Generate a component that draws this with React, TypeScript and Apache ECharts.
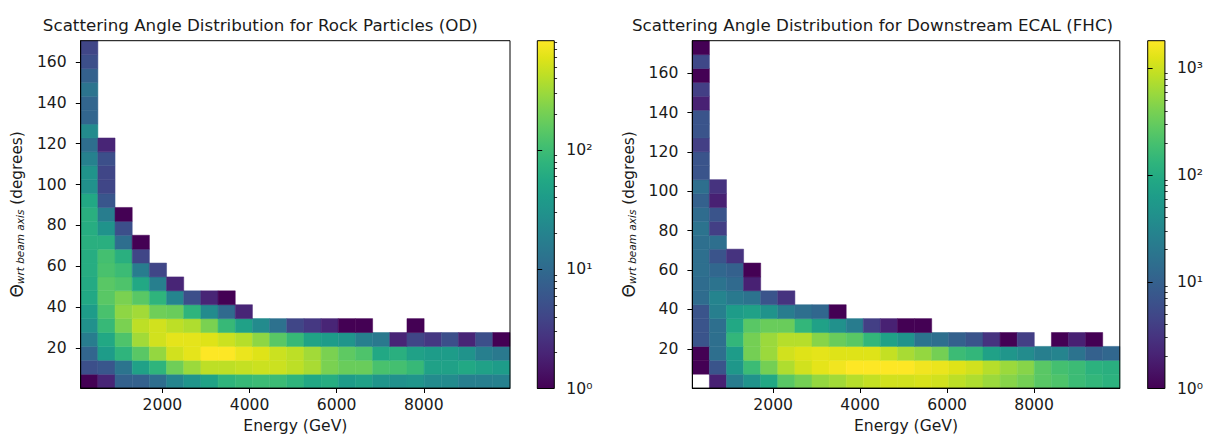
import React, { useEffect, useRef } from "react";
import * as echarts from "echarts";

// ---------- data ----------
const nBins = 25;
const odXRange = [125, 9977];
const odYRange = [0.4, 170.4];
const fhcXRange = [140, 9970];
const fhcYRange = [0, 176.6];

const xTicks = [2000, 4000, 6000, 8000];
const yTicks = [20, 40, 60, 80, 100, 120, 140, 160];

const odTitle = "Scattering Angle Distribution for Rock Particles (OD)";
const fhcTitle = "Scattering Angle Distribution for Downstream ECAL (FHC)";
const xName = "Energy (GeV)";

// counts per cell: rows go from the lowest angle bin upward, columns are energy bins (missing = empty)
const odCounts: number[][] = [
  [1, 2, 8, 8, 11, 21, 33, 49, 79, 90, 97, 97, 79, 56, 65, 40, 46, 33, 29, 33, 25, 25, 18, 18, 19],
  [5, 6, 13, 46, 79, 190, 303, 425, 425, 454, 486, 486, 425, 347, 217, 177, 177, 118, 111, 90, 46, 46, 56, 46, 40],
  [9, 40, 79, 145, 284, 520, 636, 832, 832, 680, 594, 486, 425, 324, 217, 155, 126, 56, 69, 46, 40, 40, 31, 18, 15],
  [17, 56, 126, 324, 520, 636, 636, 594, 486, 397, 265, 145, 90, 49, 40, 33, 18, 15, 2, 4, 3, 5, 2, 5, 1],
  [29, 90, 217, 425, 520, 425, 371, 217, 90, 46, 25, 12, 4, 3, 2, 1, 1, 0, 0, 1],
  [40, 118, 265, 324, 190, 177, 79, 25, 10, 2],
  [56, 145, 217, 145, 79, 21, 5, 2, 1],
  [60, 145, 126, 56, 18, 2],
  [65, 118, 97, 17, 4],
  [65, 111, 69, 4],
  [69, 69, 11, 1],
  [65, 31, 5],
  [69, 17, 1],
  [56, 6],
  [29, 4],
  [31, 4],
  [19, 5],
  [11, 2],
  [25],
  [9],
  [9],
  [13],
  [8],
  [5],
  [4],
];

const fhcCounts: number[][] = [
  [0, 2, 23, 46, 90, 258, 376, 547, 636, 795, 926, 1072, 1072, 1160, 1072, 859, 739, 590, 471, 376, 258, 222, 165, 142, 122],
  [1, 7, 53, 165, 376, 739, 1072, 1340, 1560, 1820, 1820, 1820, 1820, 1560, 1447, 1250, 1072, 795, 590, 471, 258, 191, 165, 122, 113],
  [1, 15, 62, 376, 590, 1072, 1250, 1340, 1250, 1250, 1250, 926, 680, 547, 376, 165, 142, 72, 50, 37, 25, 29, 17, 10, 12],
  [7, 15, 142, 376, 590, 795, 795, 471, 324, 258, 142, 72, 46, 17, 15, 10, 7, 3, 1, 4, 0, 1, 2, 1, 0],
  [7, 15, 90, 258, 324, 324, 142, 72, 43, 23, 4, 2, 1, 1],
  [7, 25, 62, 72, 46, 23, 15, 12, 1],
  [14, 29, 21, 17, 7, 3],
  [14, 17, 13, 2],
  [15, 12, 10, 1],
  [15, 7, 3],
  [15, 15],
  [17, 4],
  [14, 7],
  [10, 2],
  [15, 3],
  [7],
  [7],
  [4],
  [7],
  [7],
  [2],
  [4],
  [1],
  [5],
  [1],
];

// ---------- styling helpers ----------
const viridis = [
  "#440154", "#471365", "#482475", "#463480", "#414487", "#3b528b", "#355f8d",
  "#2f6c8e", "#2a788e", "#25848e", "#21918c", "#1e9c89", "#22a884", "#2fb47c",
  "#44bf70", "#5ec962", "#7ad151", "#9bd93c", "#bddf26", "#dfe318", "#fde725",
];

function hexToRgb(h: string) {
  return [parseInt(h.slice(1, 3), 16), parseInt(h.slice(3, 5), 16), parseInt(h.slice(5, 7), 16)];
}
function viridisColor(t: number) {
  const v = Math.max(0, Math.min(1, t)) * (viridis.length - 1);
  const i = Math.min(viridis.length - 2, Math.floor(v));
  const f = v - i;
  const a = hexToRgb(viridis[i]);
  const b = hexToRgb(viridis[i + 1]);
  const c = a.map((x, k) => Math.round(x + (b[k] - x) * f));
  return `rgb(${c[0]},${c[1]},${c[2]})`;
}

const FONT = "DejaVu Sans";
const TXT = "#1a1a1a";
const FS = 15.6;
const SUP = ["⁰", "¹", "²", "³", "⁴"];

function App() {
  const ref = useRef<HTMLDivElement>(null);

  useEffect(() => {
    if (!ref.current) return;
    const chart = echarts.init(ref.current, null, { renderer: "svg" });

    const panels = [
      { counts: odCounts, xr: odXRange, yr: odYRange, title: odTitle, grid: { left: 80.7, top: 40.7, width: 429.3, height: 347.8 }, cbar: { left: 537.3, top: 40.7, width: 17, height: 347.8 }, titleX: 255.3 },
      { counts: fhcCounts, xr: fhcXRange, yr: fhcYRange, title: fhcTitle, grid: { left: 692.3, top: 40.7, width: 427.5, height: 347.8 }, cbar: { left: 1147.7, top: 40.7, width: 17.3, height: 347.8 }, titleX: 867.5 },
    ];

    const grids: any[] = [];
    const xAxes: any[] = [];
    const yAxes: any[] = [];
    const series: any[] = [];
    const titles: any[] = [];

    panels.forEach((p) => {
      const maxCount = Math.max(...p.counts.flat());
      const logMax = Math.log10(maxCount);
      const gMain = grids.length;
      grids.push({ ...p.grid, show: true, borderColor: "#000", borderWidth: 1, backgroundColor: "transparent", z: 10 });
      const gBar = grids.length;
      grids.push({
        ...p.cbar,
        show: true,
        borderColor: "#000",
        borderWidth: 1,
        backgroundColor: new echarts.graphic.LinearGradient(0, 1, 0, 0, viridis.map((c, i) => ({ offset: i / (viridis.length - 1), color: c }))),
      });

      titles.push({
        text: p.title,
        left: p.titleX,
        top: 11,
        textAlign: "center",
        textStyle: { fontFamily: FONT, fontSize: 16.7, fontWeight: "normal", color: TXT },
      });

      const xIdx = xAxes.length;
      xAxes.push({
        gridIndex: gMain,
        type: "value",
        min: p.xr[0],
        max: p.xr[1],
        name: xName,
        nameLocation: "middle",
        nameGap: 28,
        nameTextStyle: { fontFamily: FONT, fontSize: FS, color: TXT },
        axisLine: { show: true, lineStyle: { color: "#000", width: 1 } },
        axisTick: { show: true, customValues: xTicks, length: 4.9, lineStyle: { color: "#000", width: 1 } },
        axisLabel: { customValues: xTicks, margin: 9, fontFamily: FONT, fontSize: FS, color: TXT, formatter: (v: number) => String(v) },
        splitLine: { show: false },
        z: 10,
      });
      xAxes.push({ gridIndex: gBar, type: "value", show: false, min: 0, max: 1 });

      const yIdx = yAxes.length;
      yAxes.push({
        gridIndex: gMain,
        type: "value",
        min: p.yr[0],
        max: p.yr[1],
        name: "{t|Θ}{s|wrt beam axis}{n| (degrees)}",
        nameLocation: "middle",
        nameRotate: 90,
        nameGap: 55,
        nameTextStyle: {
          fontFamily: FONT,
          color: TXT,
          rich: {
            t: { fontFamily: FONT, fontSize: 17, color: TXT, lineHeight: 17, verticalAlign: "middle" },
            s: { fontFamily: FONT, fontSize: 10.5, fontStyle: "italic", color: TXT, lineHeight: 17, verticalAlign: "bottom" },
            n: { fontFamily: FONT, fontSize: 15.3, color: TXT, lineHeight: 17, verticalAlign: "middle" },
          },
        },
        axisLine: { show: true, lineStyle: { color: "#000", width: 1 } },
        axisTick: { show: true, customValues: yTicks, length: 4.9, lineStyle: { color: "#000", width: 1 } },
        axisLabel: { customValues: yTicks, margin: 14, fontFamily: FONT, fontSize: FS, color: TXT, formatter: (v: number) => String(v) },
        splitLine: { show: false },
        z: 10,
      });

      const majors: number[] = [];
      const minors: number[] = [];
      for (let d = 0; d <= Math.floor(logMax); d++) {
        majors.push(d);
        for (let k = 2; k <= 9; k++) {
          const v = Math.log10(k * Math.pow(10, d));
          if (v <= logMax) minors.push(v);
        }
      }
      yAxes.push({
        gridIndex: gBar,
        type: "value",
        min: 0,
        max: logMax,
        position: "right",
        axisLine: { show: false },
        axisTick: { show: true, customValues: majors, length: 4.9, lineStyle: { color: "#000", width: 1 } },
        axisLabel: {
          customValues: majors,
          margin: 12,
          fontFamily: FONT,
          fontSize: FS,
          color: TXT,
          formatter: (v: number) => "10" + SUP[Math.round(v)],
        },
        splitLine: { show: false },
        z: 10,
      });
      yAxes.push({
        gridIndex: gBar,
        type: "value",
        min: 0,
        max: logMax,
        position: "right",
        axisLine: { show: false },
        axisTick: { show: true, customValues: minors, length: 2.8, lineStyle: { color: "#000", width: 0.8 } },
        axisLabel: { show: false },
        splitLine: { show: false },
        z: 10,
      });

      const dx = (p.xr[1] - p.xr[0]) / nBins;
      const dy = (p.yr[1] - p.yr[0]) / nBins;
      const data: number[][] = [];
      p.counts.forEach((row, j) =>
        row.forEach((c, i) => {
          if (c > 0) data.push([p.xr[0] + i * dx, p.xr[0] + (i + 1) * dx, p.yr[0] + j * dy, p.yr[0] + (j + 1) * dy, c]);
        })
      );
      series.push({
        type: "custom",
        name: p.title,
        xAxisIndex: xIdx,
        yAxisIndex: yIdx,
        data,
        encode: { x: [0, 1], y: [2, 3] },
        renderItem: (_params: any, api: any) => {
          const p0 = api.coord([api.value(0), api.value(3)]);
          const p1 = api.coord([api.value(1), api.value(2)]);
          const col = viridisColor(Math.log10(api.value(4)) / logMax);
          return {
            type: "rect",
            shape: { x: p0[0], y: p0[1], width: p1[0] - p0[0], height: p1[1] - p0[1] },
            style: { fill: col, stroke: col, lineWidth: 0.5 },
          };
        },
      });
    });

    chart.setOption({
      animation: false,
      backgroundColor: "#fff",
      textStyle: { fontFamily: FONT },
      title: titles,
      grid: grids,
      xAxis: xAxes,
      yAxis: yAxes,
      series,
    });

    return () => chart.dispose();
  }, []);

  return <div ref={ref} style={{ position: "fixed", left: 0, top: 0, width: "1206px", height: "439px" }} />;
}

export default App;
